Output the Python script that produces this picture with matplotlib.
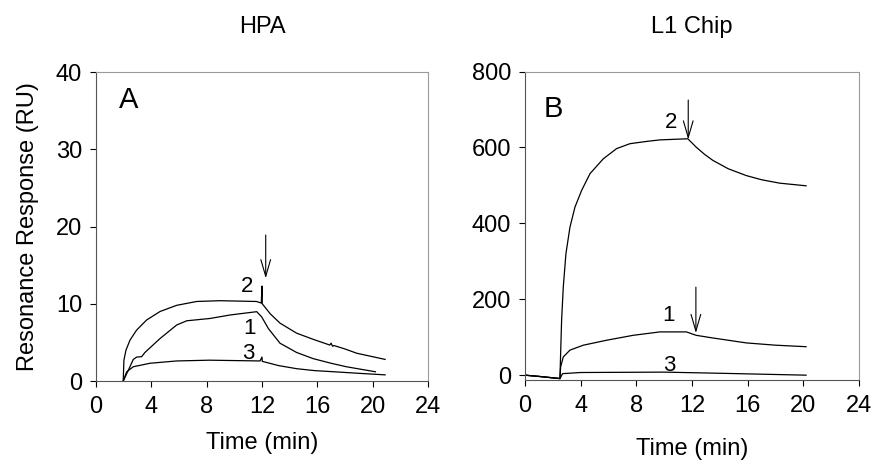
"""Two-panel SPR sensorgrams: HPA (A) and L1 chip (B)."""
import matplotlib

matplotlib.use("Agg")
import matplotlib.pyplot as plt  # noqa: E402

plt.rcParams["font.family"] = ["Liberation Sans", "DejaVu Sans"]

# ---- panel A (HPA) : time (min), response (RU)
a2_t = [1.97, 2.02, 2.17, 2.46, 2.94, 3.66, 4.63, 5.83, 7.28, 8.97, 11.6, 11.95,
        12.0, 12.02, 12.6, 13.3, 14.5, 15.7, 16.9, 17.0, 17.1, 17.2, 18.0, 18.85,
        20.9]
a2_v = [0.0, 2.7, 4.0, 5.3, 6.6, 7.9, 9.0, 9.8, 10.3, 10.4, 10.3, 10.1,
        12.3, 10.0, 8.7, 7.5, 6.2, 5.4, 4.66, 4.9, 4.5, 4.6, 4.15, 3.6,
        2.8]
a1_t = [1.97, 2.34, 2.7, 2.94, 3.3, 3.54, 4.63, 5.83, 6.56, 8.24, 9.69, 11.62,
        11.98, 12.46, 13.3, 14.5, 15.7, 17.0, 18.1, 20.2]
a1_v = [0.0, 1.4, 2.8, 3.1, 3.15, 3.7, 5.5, 7.25, 7.8, 8.1, 8.55, 8.98,
        8.3, 6.8, 4.9, 3.7, 2.9, 2.3, 1.85, 1.2]
a3_t = [1.97, 2.22, 2.7, 3.9, 5.83, 8.2, 11.86, 12.0, 12.02, 13.2, 14.5, 15.8,
        17.2, 19.0, 20.9]
a3_v = [0.0, 1.2, 1.85, 2.3, 2.6, 2.7, 2.6, 3.1, 2.55, 2.0, 1.6, 1.35,
        1.2, 1.0, 0.8]

# ---- panel B (L1 chip)
b2_t = [0.0, 1.2, 2.51, 2.56, 2.63, 2.75, 2.94, 3.23, 3.59, 4.07, 4.67, 5.62,
        6.58, 7.54, 8.74, 9.69, 11.7, 12.3, 12.9, 13.5, 14.6, 15.9, 17.0,
        18.3, 20.2]
b2_v = [0, -4, -9, 57, 145, 232, 320, 390, 443, 487, 531, 570,
        597, 610, 616, 620, 623, 601, 582, 566, 544, 526, 515,
        506, 499]
b1_t = [0.0, 1.2, 2.51, 2.56, 2.75, 3.23, 4.19, 5.86, 7.77, 9.69, 11.6, 12.3,
        13.5, 15.9, 18.0, 20.2]
b1_v = [0, -4, -9, 22, 48, 66, 79, 92, 105, 114, 114, 105,
        98, 85, 79, 75]
b3_t = [0.0, 1.2, 2.51, 2.7, 4.0, 10.0, 14.0, 20.2]
b3_v = [0, -4, -9, 4, 7, 8, 5, 0]

a_xticks = [0, 4, 8, 12, 16, 20, 24]
a_yticks = [0, 10, 20, 30, 40]
b_yticks = [0, 200, 400, 600, 800]

# arrows: (time, top, tip)
a_arrow = (12.27, 18.9, 13.3)
b_arrows = [(11.73, 725, 621), (12.28, 232, 111)]
# curve labels: (text, time, response)
a_labels = [("2", 10.9, 12.2), ("1", 11.1, 6.8), ("3", 11.0, 3.6)]
b_labels = [("2", 10.5, 667), ("1", 10.3, 158), ("3", 10.4, 26)]

fig = plt.figure(figsize=(8.74, 4.71), dpi=100)
axA = fig.add_axes([0.1098, 0.191, 0.3799, 0.656])
axB = fig.add_axes([0.6007, 0.193, 0.3821, 0.655])


def style(ax, ylim, yticks, title):
    ax.set_xlim(0, 24)
    ax.set_ylim(*ylim)
    ax.set_xticks(a_xticks)
    ax.set_yticks(yticks)
    ax.tick_params(axis="x", direction="out", length=4, width=0.8, pad=7,
                   labelsize=17)
    ax.tick_params(axis="y", direction="out", length=4, width=0.8, pad=6,
                   labelsize=17)
    for side in ("top", "right"):
        ax.spines[side].set_color("#9a9a9a")
        ax.spines[side].set_linewidth(0.8)
    for side in ("left", "bottom"):
        ax.spines[side].set_color("#555555")
        ax.spines[side].set_linewidth(0.8)
    ax.set_title(title, fontsize=17, pad=28)


def arrow(ax, t, top, tip):
    ax.annotate("", xy=(t, tip), xytext=(t, top),
                arrowprops=dict(arrowstyle="->,head_length=1.2,head_width=0.35",
                                color="black", lw=0.8, shrinkA=0, shrinkB=0))


for t, v in [(a2_t, a2_v), (a1_t, a1_v), (a3_t, a3_v)]:
    axA.plot(t, v, color="black", lw=0.9)
arrow(axA, *a_arrow)
for s, t, v in a_labels:
    axA.text(t, v, s, fontsize=16, ha="center", va="center")
axA.text(2.33, 36.4, "A", fontsize=21, ha="center", va="center")
style(axA, (0, 40), a_yticks, "HPA")
axA.set_xlabel("Time (min)", fontsize=17, labelpad=10)
axA.set_ylabel("Resonance Response (RU)", fontsize=17, labelpad=12)

for t, v in [(b2_t, b2_v), (b1_t, b1_v), (b3_t, b3_v)]:
    axB.plot(t, v, color="black", lw=0.9)
for ar in b_arrows:
    arrow(axB, *ar)
for s, t, v in b_labels:
    axB.text(t, v, s, fontsize=16, ha="center", va="center")
axB.text(2.03, 702, "B", fontsize=21, ha="center", va="center")
style(axB, (-13, 800), b_yticks, "L1 Chip")
axB.set_xlabel("Time (min)", fontsize=17, labelpad=15)

fig.savefig("out.png", dpi=100)
